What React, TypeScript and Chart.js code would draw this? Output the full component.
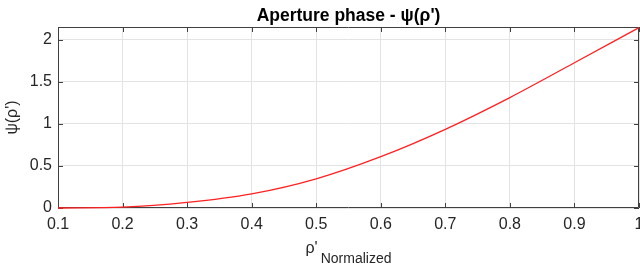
import React, { useEffect, useRef } from "react";
import { Chart, registerables } from "chart.js";

Chart.register(...registerables);

const rhoValues = [0.1, 0.2, 0.3, 0.4, 0.5, 0.6, 0.7, 0.8, 0.9, 1.0];
const psiValues = [0.0, 0.01, 0.066, 0.168, 0.347, 0.61, 0.935, 1.312, 1.725, 2.142];
const xTicks = [0.1, 0.2, 0.3, 0.4, 0.5, 0.6, 0.7, 0.8, 0.9, 1];
const yTicks = [0, 0.5, 1, 1.5, 2];
const titleText = "Aperture phase - ψ(ρ')";
const yTitle = "ψ(ρ')";
const xTitleMain = "ρ'";
const xTitleSub = "Normalized";

const FONT = "'Liberation Sans', Arial, Helvetica, sans-serif";
const AXIS = "#404040";

const framePlugin = {
  id: "matlabFrame",
  beforeDatasetsDraw(chart: any) {
    const { ctx, chartArea } = chart;
    const { left, right, top, bottom } = chartArea;
    const xs = chart.scales.x;
    const ys = chart.scales.y;
    ctx.save();
    ctx.strokeStyle = AXIS;
    ctx.lineWidth = 1;
    ctx.beginPath();
    ctx.rect(left + 0.5, top + 0.5, right - left - 1, bottom - top - 1);
    ctx.stroke();
    const tl = 5;
    ctx.beginPath();
    xs.ticks.forEach((t: any) => {
      const px = Math.round(xs.getPixelForValue(t.value)) + 0.5;
      ctx.moveTo(px, bottom);
      ctx.lineTo(px, bottom - tl);
      ctx.moveTo(px, top);
      ctx.lineTo(px, top + tl);
    });
    ys.ticks.forEach((t: any) => {
      const py = Math.round(ys.getPixelForValue(t.value)) + 0.5;
      ctx.moveTo(left, py);
      ctx.lineTo(left + tl, py);
      ctx.moveTo(right, py);
      ctx.lineTo(right - tl, py);
    });
    ctx.stroke();
    ctx.restore();
  },
  afterDraw(chart: any) {
    const { ctx, chartArea } = chart;
    const { left, right, top, bottom } = chartArea;
    ctx.save();
    // title
    ctx.fillStyle = "#000000";
    ctx.font = `bold 17.5px ${FONT}`;
    ctx.textAlign = "center";
    ctx.textBaseline = "alphabetic";
    ctx.fillText(titleText, (left + right) / 2, 21);

    // y title
    ctx.fillStyle = "#262626";
    ctx.font = `16px ${FONT}`;
    ctx.save();
    ctx.translate(17, (top + bottom) / 2);
    ctx.rotate(-Math.PI / 2);
    ctx.textAlign = "center";
    ctx.fillText(yTitle, 0, 0);
    ctx.restore();

    // x title with subscript
    ctx.font = `16px ${FONT}`;
    const wMain = ctx.measureText(xTitleMain).width;
    ctx.font = `14px ${FONT}`;
    const wSub = ctx.measureText(xTitleSub).width;
    const total = wMain + wSub + 3;
    const sx = (left + right) / 2 - total / 2;
    ctx.textAlign = "left";
    ctx.font = `16px ${FONT}`;
    ctx.fillText(xTitleMain, sx, 253);
    ctx.font = `14px ${FONT}`;
    ctx.fillText(xTitleSub, sx + wMain + 3, 263);
    ctx.restore();
  },
};

export default function App() {
  const ref = useRef<HTMLCanvasElement | null>(null);
  useEffect(() => {
    document.body.style.margin = "0";
    if (!ref.current) return;
    const chart = new Chart(ref.current, {
      type: "line",
      data: {
        datasets: [
          {
            data: rhoValues.map((x, i) => ({ x, y: psiValues[i] })),
            borderColor: "#ff2020",
            borderWidth: 1.3,
            pointRadius: 0,
            cubicInterpolationMode: "monotone",
            fill: false,
            clip: false,
          },
        ],
      },
      options: {
        animation: false,
        responsive: false,
        devicePixelRatio: 1,
        layout: { autoPadding: false, padding: { top: 27, right: 1, left: 0, bottom: 0 } },
        plugins: { legend: { display: false }, tooltip: { enabled: false }, title: { display: false } },
        scales: {
          x: {
            type: "linear",
            min: 0.1,
            max: 1,
            afterFit: (s: any) => {
              s.height = 66;
              s.paddingLeft = 0;
              s.paddingRight = 0;
            },
            afterBuildTicks: (s: any) => {
              s.ticks = xTicks.map((v) => ({ value: v }));
            },
            ticks: {
              padding: 7,
              color: "#262626",
              font: { family: FONT, size: 16 },
              maxRotation: 0,
              autoSkip: false,
              callback: (v: any) => String(Math.round(Number(v) * 10) / 10),
            },
            grid: { color: "#e3e3e3", drawTicks: false },
            border: { display: false },
          },
          y: {
            type: "linear",
            min: 0,
            max: 2.15,
            afterFit: (s: any) => {
              s.width = 58;
              s.paddingTop = 0;
              s.paddingBottom = 0;
            },
            afterBuildTicks: (s: any) => {
              s.ticks = yTicks.map((v) => ({ value: v }));
            },
            ticks: {
              padding: 6,
              color: "#262626",
              font: { family: FONT, size: 16 },
              callback: (v: any) => String(v),
            },
            grid: { color: "#e3e3e3", drawTicks: false },
            border: { display: false },
          },
        },
      },
      plugins: [framePlugin],
    });
    return () => chart.destroy();
  }, []);
  return <canvas ref={ref} width={640} height={274} style={{ display: "block" }} />;
}
